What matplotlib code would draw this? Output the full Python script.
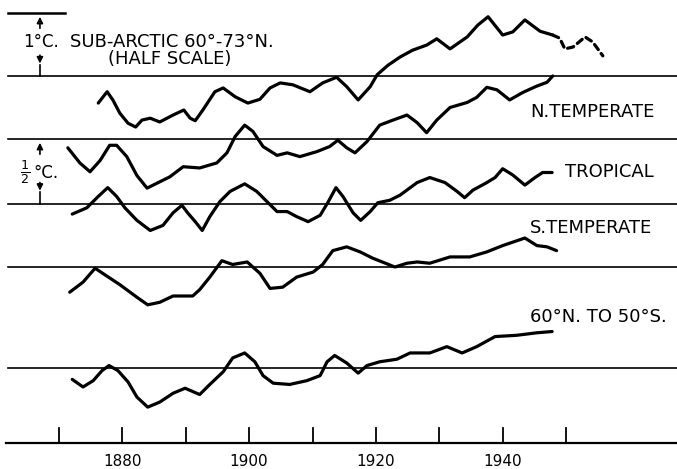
import matplotlib.pyplot as plt

# anomalies in deg C
sub_arctic_yr = [1876.2, 1877.6, 1878.5, 1879.6, 1880.9, 1882.1, 1883.1, 1884.4, 1885.9, 1888.0,
                 1889.7, 1890.7, 1891.5, 1892.7, 1894.6, 1895.9, 1897.8, 1899.8, 1901.7, 1903.3,
                 1904.9, 1906.9, 1909.6, 1911.6, 1913.8, 1915.4, 1917.2, 1919.1, 1920.2, 1921.9,
                 1923.8, 1925.8, 1928.0, 1929.6, 1931.7, 1934.4, 1936.1, 1937.7, 1940.0, 1941.6,
                 1943.5, 1945.9, 1947.9]
sub_arctic = [-0.43, -0.25, -0.38, -0.59, -0.75, -0.81, -0.70, -0.67, -0.73, -0.62,
              -0.54, -0.67, -0.71, -0.54, -0.25, -0.19, -0.33, -0.43, -0.37, -0.19,
              -0.11, -0.14, -0.25, -0.11, -0.02, -0.17, -0.38, -0.17, 0.02, 0.17,
              0.30, 0.41, 0.49, 0.59, 0.43, 0.62, 0.81, 0.94, 0.65, 0.70,
              0.89, 0.71, 0.65]
sub_arctic_late_yr = [1947.9, 1949.0, 1949.8, 1951.1, 1953.0, 1954.2, 1955.8]
sub_arctic_late = [0.65, 0.60, 0.43, 0.46, 0.62, 0.54, 0.32]

n_temp_yr = [1871.4, 1873.3, 1874.9, 1876.5, 1878.0, 1879.1, 1880.7, 1882.3, 1883.9, 1887.5,
             1889.6, 1892.2, 1894.9, 1896.5, 1897.8, 1899.3, 1900.6, 1902.2, 1904.4, 1906.0,
             1908.0, 1910.7, 1912.7, 1914.0, 1915.4, 1916.7, 1918.6, 1920.6, 1922.7, 1924.9,
             1926.5, 1928.0, 1929.6, 1931.7, 1934.4, 1935.9, 1937.5, 1939.1, 1941.1, 1943.2,
             1945.4, 1947.0, 1947.9]
n_temp = [-0.07, -0.19, -0.26, -0.17, -0.05, -0.05, -0.14, -0.29, -0.39, -0.30,
          -0.22, -0.23, -0.19, -0.11, 0.02, 0.11, 0.06, -0.06, -0.13, -0.11,
          -0.14, -0.10, -0.06, -0.01, -0.07, -0.11, -0.02, 0.11, 0.15, 0.19,
          0.13, 0.05, 0.15, 0.25, 0.29, 0.33, 0.41, 0.39, 0.31, 0.37,
          0.42, 0.45, 0.50]

tropical_yr = [1872.1, 1874.4, 1876.2, 1877.7, 1879.1, 1880.4, 1882.3, 1884.4, 1886.4, 1888.0,
               1889.4, 1890.3, 1891.5, 1892.6, 1893.8, 1895.4, 1897.0, 1899.3, 1901.2, 1903.0,
               1904.4, 1906.0, 1907.5, 1909.3, 1911.2, 1912.4, 1913.7, 1914.8, 1916.4, 1917.6,
               1919.1, 1920.3, 1922.2, 1923.8, 1926.5, 1928.5, 1930.9, 1932.8, 1934.0, 1935.3,
               1937.5, 1938.8, 1940.0, 1941.6, 1943.5, 1945.1, 1946.3, 1947.8]
tropical = [-0.08, -0.03, 0.06, 0.13, 0.06, -0.03, -0.13, -0.21, -0.17, -0.07,
            -0.01, -0.07, -0.14, -0.21, -0.10, 0.02, 0.10, 0.16, 0.10, 0.01,
            -0.06, -0.06, -0.10, -0.14, -0.09, 0.01, 0.13, 0.06, -0.07, -0.13,
            -0.06, 0.01, 0.03, 0.07, 0.17, 0.21, 0.17, 0.10, 0.05, 0.11,
            0.17, 0.21, 0.28, 0.23, 0.15, 0.21, 0.25, 0.25]

s_temp_yr = [1871.7, 1873.8, 1875.7, 1876.9, 1879.6, 1882.3, 1884.0, 1885.9, 1888.0, 1891.1,
             1892.2, 1893.8, 1895.7, 1897.4, 1899.7, 1901.7, 1903.3, 1905.3, 1907.5, 1910.1,
             1911.6, 1913.2, 1915.4, 1917.5, 1919.5, 1923.0, 1924.9, 1926.5, 1928.5, 1931.7,
             1934.8, 1937.5, 1940.0, 1943.5, 1945.4, 1947.0, 1948.5]
s_temp = [-0.20, -0.12, -0.01, -0.05, -0.14, -0.24, -0.30, -0.28, -0.23, -0.23,
          -0.18, -0.08, 0.05, 0.02, 0.04, -0.05, -0.17, -0.16, -0.08, -0.04,
          0.02, 0.13, 0.16, 0.12, 0.07, 0.00, 0.03, 0.04, 0.03, 0.08,
          0.08, 0.12, 0.17, 0.23, 0.17, 0.16, 0.13]

glob_yr = [1872.1, 1873.8, 1875.4, 1876.8, 1877.9, 1879.3, 1880.9, 1882.3, 1884.0, 1885.9,
           1888.0, 1889.9, 1892.2, 1893.8, 1895.9, 1897.4, 1899.3, 1900.9, 1902.2, 1903.8,
           1906.4, 1909.1, 1911.2, 1912.3, 1913.5, 1915.4, 1917.2, 1918.6, 1920.6, 1923.3,
           1925.4, 1928.5, 1931.2, 1933.6, 1935.9, 1938.8, 1942.2, 1945.4, 1947.8]
glob = [-0.09, -0.15, -0.10, -0.02, 0.02, -0.02, -0.11, -0.23, -0.31, -0.27,
        -0.20, -0.16, -0.21, -0.13, -0.03, 0.08, 0.12, 0.05, -0.06, -0.12,
        -0.13, -0.10, -0.06, 0.05, 0.10, 0.04, -0.04, 0.02, 0.05, 0.07,
        0.12, 0.12, 0.17, 0.12, 0.17, 0.25, 0.26, 0.28, 0.29]

tick_years = [1870, 1880, 1890, 1900, 1910, 1920, 1930, 1940, 1950]
label_years = [1880, 1900, 1920, 1940]

# layout: vertical position of each zero line (units of 1 deg C, full scale)
base = {'sub': 2.913, 'n': 2.413, 'trop': 1.897, 's': 1.397, 'glob': 0.595}
X0, X1 = 1860.7, 1967.5

fig = plt.figure(figsize=(6.77, 4.69), dpi=100)
ax = fig.add_axes([0, 0, 1, 1])
ax.set_xlim(X0, X1)
ax.set_ylim(-0.206, 3.516)
ax.axis('off')

lw = 2.3
kw = dict(color='black', lw=lw, solid_joinstyle='round', solid_capstyle='round')

# zero lines
for b in base.values():
    ax.plot([1861.9, X1], [b, b], color='black', lw=1.2)

ax.plot(sub_arctic_yr, [base['sub'] + 0.5 * v for v in sub_arctic], **kw)
ax.plot(sub_arctic_late_yr, [base['sub'] + 0.5 * v for v in sub_arctic_late],
        color='black', lw=lw, ls=(0, (2.0, 1.5)), dash_capstyle='round', dash_joinstyle='round')
ax.plot(n_temp_yr, [base['n'] + v for v in n_temp], **kw)
ax.plot(tropical_yr, [base['trop'] + v for v in tropical], **kw)
ax.plot(s_temp_yr, [base['s'] + v for v in s_temp], **kw)
ax.plot(glob_yr, [base['glob'] + v for v in glob], **kw)

# time axis
ax.plot([1861.6, X1], [0, 0], color='black', lw=1.6)
for t in tick_years:
    ax.plot([t, t], [0, 0.12], color='black', lw=1.3)
for t in label_years:
    ax.text(t, -0.15, str(t), ha='center', va='center', fontsize=11)

# scale bars
ax.plot([1862.0, 1870.9], [3.413, 3.413], color='black', lw=1.8)
xa = 1867.0
ap = dict(arrowstyle='-|>', color='black', lw=1.2, mutation_scale=9)
ax.annotate('', xy=(xa, 3.405), xytext=(xa, 3.27), arrowprops=ap)
ax.annotate('', xy=(xa, 2.99), xytext=(xa, 3.10), arrowprops=ap)
ax.plot([xa, xa], [2.913, 3.0], color='black', lw=1.2)
ax.text(1864.3, 3.18, '1°C.', fontsize=12, ha='left', va='center')

ax.annotate('', xy=(xa, 2.405), xytext=(xa, 2.27), arrowprops=ap)
ax.annotate('', xy=(xa, 1.98), xytext=(xa, 2.09), arrowprops=ap)
ax.plot([xa, xa], [1.897, 1.99], color='black', lw=1.2)
ax.text(1863.8, 2.15, r'$\frac{1}{2}$', fontsize=13, ha='left', va='center')
ax.text(1866.0, 2.14, '°C.', fontsize=12, ha='left', va='center')

# series labels
fs = 13
ax.text(1871.7, 3.18, 'SUB-ARCTIC 60°-73°N.', fontsize=fs, ha='left', va='center')
ax.text(1887.5, 3.05, '(HALF SCALE)', fontsize=fs, ha='center', va='center')
ax.text(1944.3, 2.63, 'N.TEMPERATE', fontsize=fs, ha='left', va='center')
ax.text(1949.8, 2.15, 'TROPICAL', fontsize=fs, ha='left', va='center')
ax.text(1944.3, 1.71, 'S.TEMPERATE', fontsize=fs, ha='left', va='center')
ax.text(1944.3, 1.00, '60°N. TO 50°S.', fontsize=fs, ha='left', va='center')

fig.savefig('out.png', dpi=100)
